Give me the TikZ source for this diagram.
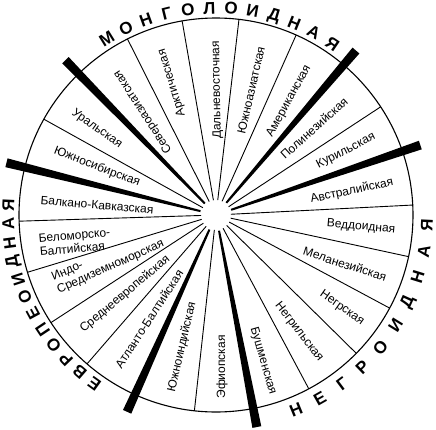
\documentclass[tikz,border=0pt]{standalone}
\usepackage{fontspec}
\setmainfont{Liberation Sans}

\begin{document}
\begin{tikzpicture}[x=1pt,y=1pt,
    every node/.style={inner sep=0pt},
    sector/.style={font=\fontsize{12}{13.5}\selectfont},
    race/.style={font=\fontsize{17}{17}\selectfont\bfseries},
    divider/.style={line width=0.9pt},
    rim/.style={line width=1.1pt}]
  \useasboundingbox (-216,-214) rectangle (220,215);

  \draw[rim] (0,0) circle (197pt);
  \foreach \a in {2.9,33.3,66,83.3,99.9,116.7,150.9,181.8,196.9,213.1,229.1,263.7,298.1,315.4,331.8,347.8}
    \draw[divider] (\a:15pt) -- (\a:197pt);
  \foreach \a in {18.9,49.6,134.2,166,245.7,280.9}
    \fill ({\a-3.5}:16pt) -- ({\a-1.2}:216pt) -- ({\a+1.2}:216pt) -- ({\a+3.5}:16pt) -- cycle;

  % mongoloid
  \node[sector,rotate=123] (sevaz) at (-73,103) {Североазиатская};
  \node[sector,rotate=107] (arkt) at (-44,132) {Арктическая};
  \node[sector,rotate=91] (dalvost) at (1,125) {Дальневосточная};
  \node[sector,rotate=77] (yuzhaz) at (35,125) {Южноазиатская};
  \node[sector,rotate=61] (amer) at (73,114) {Американская};
  \node[sector,rotate=42] (polin) at (98,87) {Полинезийская};
  \node[sector,rotate=27] (kuril) at (130,64) {Курильская};
  % negroid
  \node[sector,rotate=12] (avstr) at (136,24) {Австралийская};
  \node[sector,rotate=-5] (vedd) at (145,-12) {Веддоидная};
  \node[sector,rotate=-18] (melan) at (129,-49) {Меланезийская};
  \node[sector,rotate=-35] (negr) at (126,-93) {Негрская};
  \node[sector,rotate=-52] (negril) at (83,-117) {Негрильская};
  \node[sector,rotate=-74] (bush) at (47,-146) {Бушменская};
  \node[sector,rotate=90] (efiop) at (6,-152) {Эфиопская};
  \node[sector,rotate=77] (yuzhind) at (-34,-132) {Южноиндийская};
  % europoid
  \node[sector,rotate=57] (atlbalt) at (-67,-104) {Атланто-Балтийская};
  \node[sector,rotate=40] (sredevr) at (-91,-79) {Среднеевропейская};
  \node[sector,rotate=24,align=left] (indo) at (-108,-46) {Индо-\\Средиземноморская};
  \node[sector,rotate=5,align=left] (belom) at (-141,-27) {Беломорско-\\Балтийская};
  \node[sector,rotate=-5] (balk) at (-119,10) {Балкано-Кавказская};
  \node[sector,rotate=-21] (yuzhsib) at (-119,48) {Южносибирская};
  \node[sector,rotate=-35] (ural) at (-119,86) {Уральская};

  % race names round the rim
  \foreach \ch [count=\i from 0, evaluate=\i as \ang using 121.8-6*\i] in {М,О,Н,Г,О,Л,О,И,Д,Н,А,Я}
    \node[race,rotate=\ang-90] (mong\i) at (\ang:207pt) {\ch};
  \foreach \ch [count=\i from 0, evaluate=\i as \ang using 292.3+7.22*\i] in {Н,Е,Г,Р,О,И,Д,Н,А,Я}
    \node[race,rotate=\ang+90] (negro\i) at (\ang:211pt) {\ch};
  \foreach \ch [count=\i from 0, evaluate=\i as \ang using 234.2-5.17*\i] in {Е,В,Р,О,П,Е,О,И,Д,Н,А,Я}
    \node[race,rotate=\ang-90] (evro\i) at (\ang:208pt) {\ch};
\end{tikzpicture}
\end{document}
